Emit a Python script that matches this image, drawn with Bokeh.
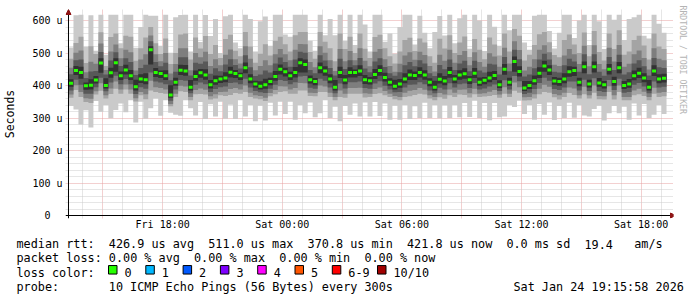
import math
import re
import numpy as np
import pandas as pd
from bokeh.plotting import figure
from bokeh.layouts import column
from bokeh.models import (Range1d, FixedTicker, DatetimeTickFormatter, Arrow, NormalHead, Title, Span)
from bokeh.embed import file_html
from bokeh.resources import INLINE
from bokeh.core.properties import value

# ---------------- data (microseconds) ----------------
start_time = "2026-01-23 13:16:30"
step_minutes = 15

median_us = [
    407, 446, 440, 399, 401, 417, 469, 400, 439, 470,
    430, 448, 430, 396, 420, 418, 510, 440, 437, 430,
    371, 410, 447, 445, 395, 428, 439, 432, 402, 415,
    420, 423, 441, 437, 430, 455, 420, 405, 398, 402,
    412, 428, 450, 442, 430, 440, 470, 465, 418, 412,
    455, 445, 420, 395, 440, 417, 440, 440, 445, 418,
    415, 434, 446, 425, 410, 398, 405, 420, 432, 431,
    440, 432, 410, 395, 419, 414, 440, 420, 432, 436,
    418, 438, 410, 416, 423, 431, 402, 450, 410, 474,
    443, 392, 400, 415, 438, 460, 448, 414, 412, 420,
    442, 446, 410, 458, 405, 458, 408, 402, 450, 412,
    455, 400, 405, 430, 438, 423, 395, 445, 420, 422,
]
# distance above the median of sorted pings 10, 9, 8, 7, 6
hi1 = [
    110, 170, 200, 120, 215, 90, 150, 95, 180, 150,
    100, 175, 190, 120, 160, 205, 105, 175, 85, 195,
    130, 200, 170, 180, 110, 195, 95, 185, 150, 190,
    80, 190, 185, 95, 85, 170, 185, 100, 200, 210,
    110, 195, 175, 115, 120, 180, 150, 155, 120, 95,
    170, 110, 185, 160, 180, 120, 180, 85, 185, 170,
    90, 185, 175, 110, 150, 100, 175, 200, 190, 95,
    175, 130, 105, 170, 195, 140, 185, 110, 175, 185,
    95, 180, 190, 90, 195, 150, 120, 175, 160, 150,
    175, 140, 110, 200, 180, 165, 120, 100, 150, 200,
    180, 100, 190, 165, 120, 170, 190, 110, 175, 190,
    170, 140, 200, 180, 185, 130, 150, 180, 170, 140,
]
hi2 = [
    75, 85, 110, 70, 120, 80, 95, 60, 110, 90,
    85, 105, 120, 80, 95, 130, 70, 90, 60, 115,
    95, 90, 110, 115, 85, 120, 75, 120, 95, 110,
    65, 120, 115, 70, 60, 110, 100, 65, 100, 125,
    80, 110, 100, 85, 75, 115, 95, 100, 85, 70,
    110, 90, 95, 80, 120, 95, 110, 60, 115, 95,
    70, 115, 110, 90, 80, 70, 100, 120, 115, 75,
    105, 100, 80, 75, 125, 100, 115, 80, 100, 115,
    70, 105, 100, 65, 125, 95, 90, 110, 95, 100,
    110, 85, 95, 110, 120, 105, 85, 80, 75, 120,
    115, 80, 90, 105, 85, 110, 95, 75, 110, 100,
    115, 95, 100, 110, 115, 100, 85, 115, 100, 90,
]
hi3 = [
    48, 55, 68, 42, 72, 50, 60, 48, 66, 56,
    54, 62, 72, 50, 60, 78, 44, 56, 38, 70,
    66, 56, 68, 70, 52, 72, 48, 72, 58, 66,
    42, 72, 70, 44, 38, 66, 62, 42, 62, 76,
    50, 68, 62, 54, 48, 70, 58, 62, 54, 44,
    66, 56, 58, 50, 72, 58, 66, 38, 70, 58,
    44, 70, 66, 56, 50, 44, 62, 72, 70, 48,
    64, 62, 50, 48, 76, 62, 70, 50, 62, 70,
    44, 64, 62, 42, 76, 58, 56, 66, 58, 62,
    66, 54, 58, 66, 72, 64, 54, 50, 48, 72,
    70, 50, 56, 64, 54, 66, 58, 48, 66, 62,
    70, 58, 62, 66, 70, 62, 54, 70, 62, 56,
]
hi4 = [
    28, 32, 40, 24, 42, 28, 34, 34, 38, 32,
    30, 36, 42, 36, 34, 46, 26, 32, 22, 40,
    45, 32, 40, 42, 36, 42, 28, 42, 34, 38,
    24, 42, 40, 26, 22, 38, 36, 24, 36, 44,
    28, 40, 36, 30, 28, 40, 34, 36, 30, 26,
    38, 32, 34, 36, 42, 34, 38, 22, 40, 34,
    26, 40, 38, 32, 28, 32, 36, 42, 40, 28,
    38, 36, 28, 34, 44, 36, 40, 28, 36, 40,
    26, 38, 36, 24, 44, 34, 32, 38, 34, 36,
    38, 36, 34, 38, 42, 38, 32, 28, 28, 42,
    40, 28, 32, 38, 30, 38, 34, 28, 38, 36,
    40, 34, 36, 38, 40, 36, 36, 40, 36, 32,
]
hi5 = [
    12, 14, 18, 10, 18, 12, 15, 22, 16, 14,
    13, 16, 18, 22, 15, 20, 11, 14, 9, 17,
    30, 14, 17, 18, 22, 18, 12, 18, 15, 16,
    10, 18, 17, 11, 9, 16, 15, 10, 15, 19,
    12, 17, 15, 13, 12, 17, 14, 15, 13, 11,
    16, 14, 15, 22, 18, 15, 16, 9, 17, 14,
    11, 17, 16, 14, 12, 20, 15, 18, 17, 12,
    16, 15, 12, 20, 19, 15, 17, 12, 15, 17,
    11, 16, 15, 10, 19, 14, 14, 16, 14, 15,
    16, 22, 14, 16, 18, 16, 14, 12, 12, 18,
    17, 12, 14, 16, 13, 16, 15, 12, 16, 15,
    17, 14, 15, 16, 17, 15, 22, 17, 15, 14,
]
# distance below the median of sorted pings 1, 2, 3, 4, 5
lo1 = [
    70, 120, 160, 75, 130, 65, 150, 60, 140, 145,
    85, 130, 75, 110, 70, 120, 180, 80, 130, 75,
    55, 100, 140, 90, 65, 120, 90, 135, 60, 110,
    70, 125, 100, 140, 75, 150, 80, 115, 60, 110,
    65, 120, 100, 130, 80, 145, 130, 150, 70, 110,
    140, 90, 120, 60, 150, 80, 130, 95, 140, 70,
    110, 85, 140, 80, 115, 60, 110, 80, 135, 95,
    140, 85, 110, 55, 120, 75, 140, 80, 130, 90,
    115, 85, 110, 70, 130, 85, 100, 145, 70, 140,
    90, 80, 60, 120, 95, 150, 100, 120, 75, 120,
    95, 145, 70, 150, 100, 130, 70, 110, 135, 75,
    140, 65, 110, 85, 130, 80, 95, 135, 80, 110,
]
lo2 = [
    45, 60, 75, 50, 55, 45, 85, 40, 65, 80,
    55, 60, 55, 45, 50, 60, 125, 60, 60, 55,
    35, 45, 65, 65, 40, 55, 65, 60, 45, 55,
    50, 55, 70, 60, 55, 75, 55, 45, 40, 50,
    45, 55, 70, 60, 55, 65, 85, 80, 50, 45,
    75, 65, 55, 40, 75, 55, 65, 65, 70, 55,
    50, 60, 70, 55, 45, 40, 50, 55, 65, 60,
    65, 60, 50, 40, 55, 55, 70, 55, 60, 65,
    55, 65, 45, 50, 55, 60, 40, 75, 45, 90,
    65, 38, 45, 55, 65, 80, 70, 50, 55, 55,
    65, 75, 50, 85, 45, 80, 50, 45, 70, 55,
    75, 45, 50, 60, 65, 55, 40, 70, 55, 55,
]
lo3 = [
    35, 45, 60, 38, 42, 35, 62, 30, 48, 58,
    42, 45, 42, 35, 40, 45, 95, 45, 45, 42,
    28, 35, 48, 48, 30, 42, 48, 45, 35, 42,
    40, 42, 52, 45, 42, 55, 42, 35, 30, 40,
    35, 42, 52, 45, 42, 48, 62, 58, 40, 35,
    55, 48, 42, 30, 55, 42, 48, 48, 52, 42,
    40, 45, 52, 42, 35, 30, 40, 42, 48, 45,
    48, 45, 40, 30, 42, 42, 52, 42, 45, 48,
    42, 48, 35, 40, 42, 45, 30, 55, 35, 65,
    48, 28, 35, 42, 48, 58, 52, 40, 42, 42,
    48, 55, 40, 62, 35, 58, 40, 35, 52, 42,
    55, 35, 40, 45, 48, 42, 30, 52, 42, 42,
]
lo4 = [
    22, 28, 38, 24, 26, 22, 45, 18, 30, 40,
    26, 28, 26, 22, 25, 28, 70, 28, 28, 26,
    18, 22, 30, 30, 19, 26, 30, 28, 22, 26,
    25, 26, 33, 28, 26, 34, 26, 22, 19, 25,
    22, 26, 33, 28, 26, 30, 42, 36, 25, 22,
    34, 30, 26, 19, 34, 26, 30, 30, 33, 26,
    25, 28, 33, 26, 22, 19, 25, 26, 30, 28,
    30, 28, 25, 19, 26, 26, 33, 26, 28, 30,
    26, 30, 22, 25, 26, 28, 19, 34, 22, 45,
    30, 18, 22, 26, 30, 36, 33, 25, 26, 26,
    30, 34, 25, 40, 22, 36, 25, 22, 33, 26,
    34, 22, 25, 28, 30, 26, 19, 33, 26, 26,
]
lo5 = [
    11, 14, 19, 12, 13, 11, 30, 9, 15, 28,
    13, 14, 13, 11, 12, 14, 45, 14, 14, 13,
    9, 11, 15, 15, 10, 13, 15, 14, 11, 13,
    12, 13, 16, 14, 13, 17, 13, 11, 10, 12,
    11, 13, 16, 14, 13, 15, 30, 25, 12, 11,
    17, 15, 13, 10, 17, 13, 15, 15, 16, 13,
    12, 14, 16, 13, 11, 10, 12, 13, 15, 14,
    15, 14, 12, 10, 13, 13, 16, 13, 14, 15,
    13, 15, 11, 12, 13, 14, 10, 17, 11, 32,
    15, 9, 11, 13, 15, 18, 16, 12, 13, 13,
    15, 17, 12, 20, 11, 18, 12, 11, 16, 13,
    17, 11, 12, 14, 15, 13, 10, 16, 13, 13,
]

y_ticks = [0, 100, 200, 300, 400, 500, 600]
y_tick_labels = ["0\u00a0\u00a0", "100 u", "200 u", "300 u", "400 u", "500 u", "600 u"]
x_label_times = ["2026-01-23 18:00", "2026-01-24 00:00", "2026-01-24 06:00",
                 "2026-01-24 12:00", "2026-01-24 18:00"]

legend_line1 = "median rtt:  426.9 us avg  511.0 us max  370.8 us min  421.8 us now  0.0 ms sd  19.4   am/s"
legend_line2 = "packet loss: 0.00 % avg  0.00 % max  0.00 % min  0.00 % now"
legend_line3 = "loss color:"
legend_line4 = "probe:       10 ICMP Echo Pings (56 Bytes) every 300s"
timestamp_text = "Sat Jan 24 19:15:58 2026"
loss_labels = ["0", "1", "2", "3", "4", "5", "6-9", "10/10"]
loss_colors = ["#26ff00", "#00b8ff", "#0059ff", "#7e00ff", "#ff00ff", "#ff5500", "#ff0000", "#a10000"]
side_text = "RRDTOOL / TOBI OETIKER"

# ---------------- layout constants ----------------
MONO = "DejaVu Sans Mono"
W, H_MAIN, H_LEG = 697, 234, 63
AX_X, AX_Y = 66, 215          # canvas position of the axes origin
FL, FR, FT, FB = 63, 673, 9, 218
PX_PER_H = 20.0
PX_PER_US = 0.325
Y_CLIP = 618
SHADES = ["#cacaca", "#a4a4a4", "#7e7e7e", "#585858", "#323232"]
RED_GRID = "#e6a0a0"
GRAY_GRID = "#cccccc"
ARROW_C = "#8e1414"


def ms(ts):
    return pd.Timestamp(ts).value / 1e6


t0 = ms(start_time)
HOUR = 3600000.0
step_ms = step_minutes * 60000
n = len(median_us)
t_ms = t0 + np.arange(n) * step_ms
x_start = t0 - (AX_X - FL) / PX_PER_H * HOUR
x_end = t0 + (FR - AX_X) / PX_PER_H * HOUR
y_start = -(FB - AX_Y) / PX_PER_US
y_end = (AX_Y - FT) / PX_PER_US

p = figure(width=W, height=H_MAIN, x_axis_type="datetime",
           x_range=Range1d(x_start, x_end), y_range=Range1d(y_start, y_end),
           toolbar_location=None, output_backend="svg",
           min_border_left=FL, min_border_right=W - FR,
           min_border_top=FT, min_border_bottom=H_MAIN - FB,
           outline_line_color=None, background_fill_color="white",
           border_fill_color="white")
p.frame_align = False

# smoke layers
med = np.array(median_us, dtype=float)
xs = np.append(t_ms, t_ms[-1] + step_ms)
for hi, lo, shade in zip([hi1, hi2, hi3, hi4, hi5], [lo1, lo2, lo3, lo4, lo5], SHADES):
    top = np.minimum(med + np.array(hi, dtype=float), Y_CLIP)
    bot = med - np.array(lo, dtype=float)
    p.varea_step(x=xs, y1=np.append(bot, bot[-1]), y2=np.append(top, top[-1]),
                 step_mode="after", fill_color=shade)

# median markers
p.rect(x=t_ms + step_ms / 2, y=med, width=step_ms * 0.8, height=3, height_units="screen",
       fill_color="#26ff00", line_color=None)

# grids
hours = pd.date_range(pd.Timestamp(start_time).ceil("h"), pd.Timestamp(x_end, unit="ms"), freq="h")
major_x = [ms(h) for h in hours if h.hour % 3 == 0]
minor_x = [ms(h) for h in hours if h.hour % 3 != 0]
p.xgrid.ticker = FixedTicker(ticks=major_x, minor_ticks=minor_x)
p.ygrid.ticker = FixedTicker(ticks=list(range(100, 601, 100)),
                             minor_ticks=[v for v in range(20, 620, 20) if v % 100 != 0])
for g in (p.xgrid[0], p.ygrid[0]):
    g.grid_line_color = RED_GRID
    g.grid_line_dash = "1 1"
    g.minor_grid_line_color = GRAY_GRID
    g.minor_grid_line_dash = "1 1"

# axis lines through the origin
p.add_layout(Span(location=0, dimension="width", line_color="black", line_width=1))
p.add_layout(Span(location=t0, dimension="height", line_color="black", line_width=1))

# axes (labels only; they sit at the frame edges)
p.xaxis.ticker = FixedTicker(ticks=[ms(t) for t in x_label_times])
fmt = "%a %H:%M"
p.xaxis.formatter = DatetimeTickFormatter(minutes=fmt, hourmin=fmt, hours=fmt, days=fmt,
                                          months=fmt, years=fmt, minsec=fmt, seconds=fmt)
p.yaxis.ticker = FixedTicker(ticks=y_ticks)
p.yaxis.major_label_overrides = {t: s for t, s in zip(y_ticks, y_tick_labels)}
for ax in (p.xaxis[0], p.yaxis[0]):
    ax.axis_line_color = None
    ax.major_tick_line_color = None
    ax.minor_tick_line_color = None
    ax.major_tick_out = 0
    ax.major_tick_in = 0
    ax.minor_tick_out = 0
    ax.minor_tick_in = 0
    ax.major_label_text_font = MONO
    ax.major_label_text_font_size = "10px"
    ax.major_label_text_color = "black"
p.xaxis.major_label_standoff = 0
p.yaxis.major_label_standoff = 3
p.yaxis.axis_label = "Seconds"
p.yaxis.axis_label_text_font = MONO
p.yaxis.axis_label_text_font_size = "11.5px"
p.yaxis.axis_label_text_font_style = "normal"
p.yaxis.axis_label_text_color = "black"
p.yaxis.axis_label_standoff = 12

# axis arrows (screen units relative to the frame's bottom-left corner)
p.add_layout(Arrow(end=NormalHead(size=5, fill_color=ARROW_C, line_color=ARROW_C),
                   x_start=FR - FL - 6, y_start=FB - AX_Y, x_end=FR - FL, y_end=FB - AX_Y,
                   start_units="screen", end_units="screen", line_alpha=0))
p.add_layout(Arrow(end=NormalHead(size=5, fill_color=ARROW_C, line_color=ARROW_C),
                   x_start=AX_X - FL, y_start=FB - FT - 6, x_end=AX_X - FL, y_end=FB - FT,
                   start_units="screen", end_units="screen", line_alpha=0))

# side credit text
p.add_layout(Title(text=side_text, align="left", offset=-4, standoff=9,
                   text_font=MONO, text_font_size="8.2px", text_font_style="normal",
                   text_color="#b4b4b4"), "right")

# ---------------- legend area (canvas pixel coordinates) ----------------
leg = figure(width=W, height=H_LEG, x_range=Range1d(0, W), y_range=Range1d(H_MAIN + H_LEG, H_MAIN),
             toolbar_location=None, output_backend="svg", min_border=0,
             x_axis_location=None, y_axis_location=None, outline_line_color=None,
             background_fill_color="white", border_fill_color="white")
leg.frame_align = False
leg.xgrid.visible = False
leg.ygrid.visible = False

X0, CH = 16, 7.1
BASE = [243.5, 257.9, 272.3, 286.7]
BOX_Y = 269.3
tx, ty, tt = [], [], []
for line, base in zip([legend_line1, legend_line2, legend_line3, legend_line4], BASE):
    for m in re.finditer(r"\S+(?: \S+)*", line):
        tx.append(X0 + m.start() * CH)
        ty.append(base)
        tt.append(m.group())
box_left = [108 + 37.3 * i for i in range(7)] + [377]
for bl, lab in zip(box_left, loss_labels):
    tx.append(bl + 16)
    ty.append(BASE[2])
    tt.append(lab)
leg.text(x=tx, y=ty, text=tt, text_font=value(MONO), text_font_size=value("11.8px"),
         text_baseline="alphabetic", text_align="left", text_color="black")
leg.text(x=[X0 + 94 * CH], y=[BASE[3]], text=[timestamp_text], text_font=value(MONO),
         text_font_size=value("11.8px"), text_baseline="alphabetic", text_align="right",
         text_color="black")
leg.rect(x=[b + 4.25 for b in box_left], y=BOX_Y, width=8.5, height=8.5,
         fill_color=loss_colors, line_color="black", line_width=1)

layout = column(p, leg, spacing=0)
open("out.html", "w").write(file_html(layout, INLINE))
